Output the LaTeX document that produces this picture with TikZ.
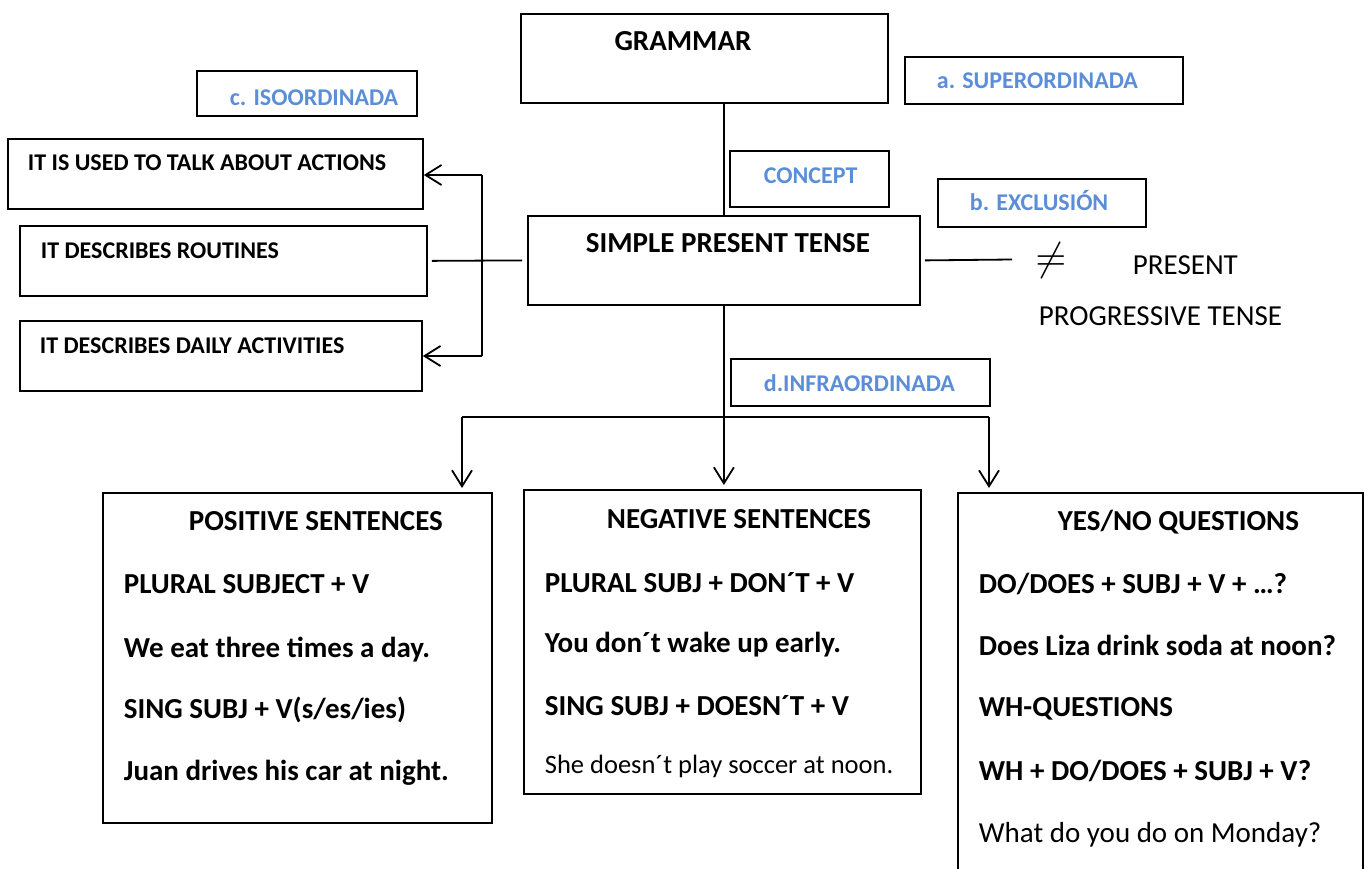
\documentclass[tikz,border=0pt]{standalone}
\usepackage{fontspec}
\setmainfont{Carlito}
\usetikzlibrary{arrows.meta}
\definecolor{lblue}{HTML}{5B8ED6}
\begin{document}
\begin{tikzpicture}[x=1pt,y=-1pt,line width=1.8pt,
  box/.style={draw,line width=1.8pt,inner sep=0pt,anchor=north west},
  arr/.style={-{Straight Barb[length=16pt,width=20pt]}},
  lbl/.style={anchor=base west,inner sep=0pt,text=lblue,font=\bfseries\fontsize{24}{28}\selectfont},
  side/.style={anchor=base west,inner sep=0pt,font=\bfseries\fontsize{24}{28}\selectfont},
  big/.style={anchor=base west,inner sep=0pt,font=\bfseries\fontsize{29}{33}\selectfont},
  btxt/.style={anchor=base west,inner sep=0pt,font=\bfseries\fontsize{29}{33}\selectfont},
  rtxt/.style={anchor=base west,inner sep=0pt,font=\fontsize{29}{33}\selectfont}
]
\useasboundingbox (0,0) rectangle (1366,869);

% boxes
\node[box,minimum width=367pt,minimum height=89pt] (grammar) at (520,13) {};
\node[box,minimum width=278pt,minimum height=47pt] (superord) at (904,56) {};
\node[box,minimum width=220pt,minimum height=45pt] (iso) at (196,70) {};
\node[box,minimum width=159pt,minimum height=56pt] (concept) at (729,150) {};
\node[box,minimum width=208pt,minimum height=48pt] (exclusion) at (937,178) {};
\node[box,minimum width=415pt,minimum height=70pt] (left1) at (7,138) {};
\node[box,minimum width=407pt,minimum height=70pt] (left2) at (19,225) {};
\node[box,minimum width=402pt,minimum height=70pt] (left3) at (19,320) {};
\node[box,minimum width=392pt,minimum height=89pt] (spt) at (527,215) {};
\node[box,minimum width=259pt,minimum height=47pt] (infra) at (730,358) {};
\node[box,minimum width=389pt,minimum height=330pt] (pos) at (102,492) {};
\node[box,minimum width=397pt,minimum height=304pt] (neg) at (523,489) {};
\node[box,minimum width=405pt,minimum height=378pt] (yes) at (957,492) {};

% texts
\node[big,anchor=base] (tgrammar) at (683,51) {GRAMMAR};
\node[lbl] (tsuper) at (936,89) {a. SUPERORDINADA};
\node[lbl] (tiso) at (229,106) {c. ISOORDINADA};
\node[lbl] (tconcept) at (763,184) {CONCEPT};
\node[lbl] (texcl) at (969,211) {b. EXCLUSIÓN};
\node[lbl] (tinfra) at (763,391) {d.INFRAORDINADA};
\node[side] (tleft1) at (27,171) {IT IS USED TO TALK ABOUT ACTIONS};
\node[side] (tleft2) at (40,259) {IT DESCRIBES ROUTINES};
\node[side] (tleft3) at (39,353) {IT DESCRIBES DAILY ACTIVITIES};
\node[big] (tspt) at (585,253) {SIMPLE PRESENT TENSE};
\node[inner sep=0pt,scale=4,font=\fontsize{10}{12}\selectfont] (neq) at (1051,261) {$\neq$};
\node[rtxt] (tpres) at (1132,275) {PRESENT};
\node[rtxt] (tprog) at (1038,325) {PROGRESSIVE TENSE};

\node[btxt] (p0) at (188,530) {POSITIVE SENTENCES};
\node[btxt] (p1) at (123,593) {PLURAL SUBJECT + V};
\node[btxt] (p2) at (123,657) {We eat three times a day.};
\node[btxt] (p3) at (123,718) {SING SUBJ + V(s/es/ies)};
\node[btxt] (p4) at (123,780) {Juan drives his car at night.};

\node[btxt] (n0) at (606,528) {NEGATIVE SENTENCES};
\node[btxt] (n1) at (544,592) {PLURAL SUBJ + DON´T + V};
\node[btxt] (n2) at (544,652) {You don´t wake up early.};
\node[btxt] (n3) at (544,715) {SING SUBJ + DOESN´T + V};
\node[anchor=base west,inner sep=0pt,font=\fontsize{26.5}{30}\selectfont] (n4) at (544,773) {She doesn´t play soccer at noon.};

\node[btxt] (y0) at (1057,530) {YES/NO QUESTIONS};
\node[btxt] (y1) at (978,593) {DO/DOES + SUBJ + V + …?};
\node[btxt] (y2) at (978,655) {Does Liza drink soda at noon?};
\node[btxt] (y3) at (978,716) {WH-QUESTIONS};
\node[btxt] (y4) at (978,780) {WH + DO/DOES + SUBJ + V?};
\node[rtxt] (y5) at (978,842) {What do you do on Monday?};

% connectors
\draw (spt.north |- grammar.south) -- (spt.north);
\draw[shorten <=4pt] (left2.east) -- ([xshift=-5pt]spt.west);
\coordinate (ex) at (1012,259.5);
\draw ([xshift=4pt]spt.east) -- (ex);

\coordinate (bt) at (482,175);
\coordinate (bb) at (482,356);
\draw (bt) -- (bb);
\draw[arr] (bt) -- (bt -| left1.east);
\draw[arr] (bb) -- (bb -| left3.east);

\coordinate (bl) at (462,417);
\coordinate (br) at (989,417);
\draw (bl) -- (br);
\draw[arr,shorten >=4pt] (spt.south) -- (spt.south |- neg.north);
\draw[arr,shorten >=4pt] (bl) -- (bl |- pos.north);
\draw[arr,shorten >=4pt] (br) -- (br |- yes.north);
\end{tikzpicture}
\end{document}
